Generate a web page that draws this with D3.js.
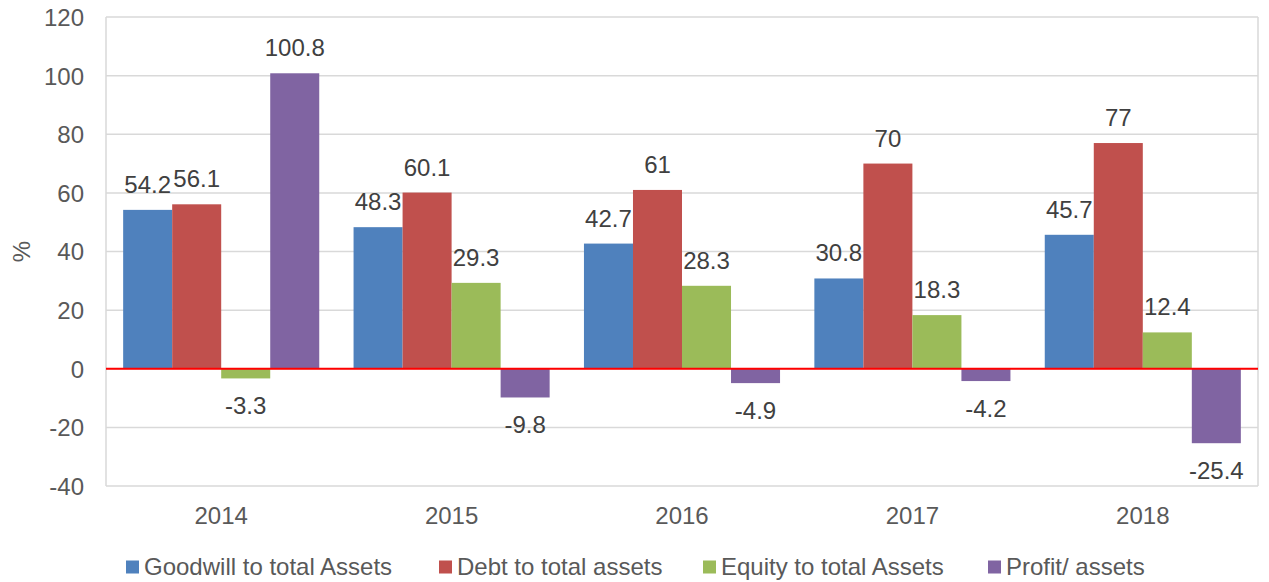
<!DOCTYPE html>
<html>
<head>
<meta charset="utf-8">
<script src="https://cdn.jsdelivr.net/npm/d3@7"></script>
<style>
  html, body { margin: 0; padding: 0; background: #fff; }
  svg { display: block; font-family: Arial, "Liberation Sans", sans-serif; }
</style>
</head>
<body>
<svg id="chart" width="1269" height="582"></svg>
<script>
const categories = ["2014", "2015", "2016", "2017", "2018"];
const seriesNames = ["Goodwill to total Assets", "Debt to total assets", "Equity to total Assets", "Profit/ assets"];
const goodwill = [54.2, 48.3, 42.7, 30.8, 45.7];
const debt = [56.1, 60.1, 61, 70, 77];
const equity = [-3.3, 29.3, 28.3, 18.3, 12.4];
const profit = [100.8, -9.8, -4.9, -4.2, -25.4];
const yTicks = [-40, -20, 0, 20, 40, 60, 80, 100, 120];
const colors = ["#4F81BD", "#C0504D", "#9BBB59", "#8064A2"];

const seriesValues = [goodwill, debt, equity, profit];

const svg = d3.select("#chart");
const M = { left: 106, right: 1258, top: 17, bottom: 486 };
const textColor = "#595959";
const fontSize = 24;

const y = d3.scaleLinear().domain([-40, 120]).range([M.bottom, M.top]);
const x0 = d3.scaleBand().domain(categories).range([M.left, M.right]).paddingInner(0).paddingOuter(0);
const groupPad = 0.7; // gap width relative to a bar
const barW = x0.bandwidth() / (seriesNames.length + groupPad);
const x1 = d3.scaleBand().domain(seriesNames)
  .range([barW * groupPad / 2, barW * groupPad / 2 + barW * seriesNames.length]).padding(0);

// gridlines
svg.append("g").selectAll("line").data(yTicks).join("line")
  .attr("x1", M.left).attr("x2", M.right)
  .attr("y1", d => y(d)).attr("y2", d => y(d))
  .attr("stroke", "#D9D9D9").attr("stroke-width", 1.5);

// frame verticals
svg.append("line").attr("x1", M.left).attr("x2", M.left).attr("y1", M.top).attr("y2", M.bottom)
  .attr("stroke", "#D9D9D9").attr("stroke-width", 1.5);
svg.append("line").attr("x1", M.right).attr("x2", M.right).attr("y1", M.top).attr("y2", M.bottom)
  .attr("stroke", "#D9D9D9").attr("stroke-width", 1.5);

// y axis labels
const yAxis = d3.axisLeft(y).tickValues(yTicks).tickSize(0).tickPadding(0).tickFormat(d => String(d));
const gy = svg.append("g").attr("transform", `translate(${84},0)`).call(yAxis);
gy.select(".domain").remove();
gy.selectAll("text").attr("font-size", fontSize).attr("fill", textColor)
  .attr("font-family", "Arial, 'Liberation Sans', sans-serif").attr("dy", "0.35em");

// x axis labels
const xAxis = d3.axisBottom(x0).tickSize(0).tickPadding(0);
const gx = svg.append("g").attr("transform", `translate(0,${M.bottom})`).call(xAxis);
gx.select(".domain").remove();
gx.selectAll("text").attr("font-size", fontSize).attr("fill", textColor)
  .attr("font-family", "Arial, 'Liberation Sans', sans-serif").attr("dy", null).attr("y", 38);

// y title
svg.append("text")
  .attr("transform", `translate(30,${(M.top + M.bottom) / 2}) rotate(-90)`)
  .attr("text-anchor", "middle").attr("font-size", fontSize).attr("fill", textColor)
  .text("%");

// bars
const groups = svg.append("g").selectAll("g").data(categories).join("g")
  .attr("transform", d => `translate(${x0(d)},0)`);

const barData = (cat, ci) => seriesNames.map((s, si) => ({ s, si, v: seriesValues[si][ci] }));

groups.selectAll("rect").data((d, ci) => barData(d, ci)).join("rect")
  .attr("x", d => x1(d.s))
  .attr("width", x1.bandwidth())
  .attr("y", d => y(Math.max(0, d.v)))
  .attr("height", d => Math.abs(y(d.v) - y(0)))
  .attr("fill", d => colors[d.si]);

// zero line
svg.append("line").attr("x1", M.left).attr("x2", M.right)
  .attr("y1", y(0)).attr("y2", y(0)).attr("stroke", "#FF0000").attr("stroke-width", 2);

// labels
groups.selectAll("text.lbl").data((d, ci) => barData(d, ci)).join("text")
  .attr("class", "lbl")
  .attr("x", d => x1(d.s) + x1.bandwidth() / 2)
  .attr("y", d => d.v >= 0 ? y(d.v) - 17 : y(d.v) + 36)
  .attr("text-anchor", "middle").attr("font-size", fontSize).attr("fill", "#404040")
  .text(d => String(d.v));

// legend
const legendItems = [
  { name: seriesNames[0], x: 126 },
  { name: seriesNames[1], x: 439 },
  { name: seriesNames[2], x: 703 },
  { name: seriesNames[3], x: 988 }
];
const lg = svg.append("g").selectAll("g").data(legendItems).join("g")
  .attr("transform", d => `translate(${d.x},567)`);
lg.append("rect").attr("x", 0).attr("y", -6.5).attr("width", 13).attr("height", 13)
  .attr("fill", (d, i) => colors[i]);
lg.append("text").attr("x", 18).attr("y", 0).attr("dy", "0.35em")
  .attr("font-size", fontSize).attr("fill", textColor).text(d => d.name);
</script>
</body>
</html>
